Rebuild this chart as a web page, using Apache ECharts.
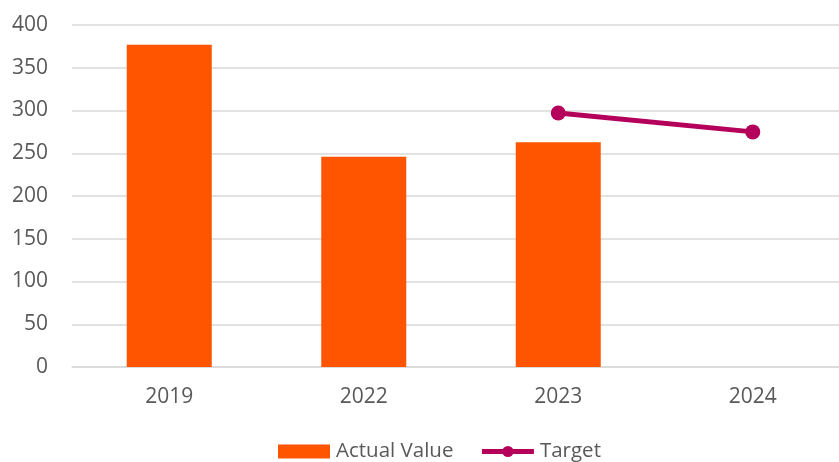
<!DOCTYPE html>
<html><head><meta charset="utf-8">
<script src="https://cdn.jsdelivr.net/npm/echarts@6/dist/echarts.min.js"></script>
<style>html,body{margin:0;padding:0;background:#fff;overflow:hidden}#c{width:852px;height:462px}</style>
</head><body><div id="c"></div>
<script>
const categories = ['2019', '2022', '2023', '2024'];
const actualValues = [377, 246, 263, null];
const targetValues = [null, null, 297, 275];
const yTicks = [0, 50, 100, 150, 200, 250, 300, 350, 400];

const font = 'Open Sans';
const chart = echarts.init(document.getElementById('c'));
chart.setOption({
  animation: false,
  grid: { left: 72, top: 25, width: 778, height: 342 },
  legend: {
    top: 441, left: 278, padding: 0,
    itemGap: 26,
    itemWidth: 52, itemHeight: 14,
    textStyle: { fontFamily: font, fontSize: 20.5, color: '#595959', padding: [0, 0, 0, 1] },
    data: [
      { name: 'Actual Value', icon: 'rect' },
      { name: 'Target', lineStyle: { width: 5 } }
    ]
  },
  xAxis: {
    type: 'category', data: categories,
    axisLine: { lineStyle: { color: '#d9d9d9', width: 1.5 } },
    axisTick: { show: false },
    axisLabel: { fontFamily: font, fontSize: 21, color: '#595959', margin: 20 }
  },
  yAxis: {
    type: 'value', min: yTicks[0], max: yTicks[yTicks.length - 1], interval: 50,
    axisLine: { show: false }, axisTick: { show: false },
    splitLine: { lineStyle: { color: '#d9d9d9', width: 1.5 } },
    axisLabel: { fontFamily: font, fontSize: 21, color: '#595959', margin: 24 }
  },
  series: [
    { name: 'Actual Value', type: 'bar', data: actualValues, barWidth: 85,
      itemStyle: { color: '#FF5500' } },
    { name: 'Target', type: 'line', data: targetValues, symbol: 'circle', symbolSize: 15,
      lineStyle: { color: '#B5005B', width: 5 }, itemStyle: { color: '#B5005B' } }
  ]
});
</script></body></html>
